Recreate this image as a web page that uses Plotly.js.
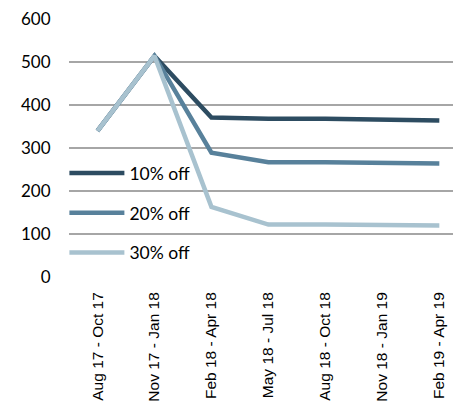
<!DOCTYPE html>
<html><head><meta charset="utf-8">
<script src="https://cdn.plot.ly/plotly-3.0.1.min.js"></script>
<style>body{margin:0;background:#fff}#chart{width:453px;height:405px}</style>
</head><body><div id="chart"></div>
<script>
const categories = ["Aug 17 - Oct 17","Nov 17 - Jan 18","Feb 18 - Apr 18","May 18 - Jul 18","Aug 18 - Oct 18","Nov 18 - Jan 19","Feb 19 - Apr 19"];
const off10 = [340, 514, 371, 368, 368, 366, 364];
const off20 = [340, 514, 289, 267, 267, 266, 264];
const off30 = [340, 514, 163, 122, 122, 122, 120];
const seriesNames = ["10% off","20% off","30% off"];
const colors = ["#2d4c61","#58819b","#a8c2cf"];
const data = [off10, off20, off30].map((y,i)=>({
  x: categories, y: y, type: "scatter", mode: "lines", name: seriesNames[i],
  legendgroup: "g" + i,
  line: {color: colors[i], width: 4.5}
}));
const layout = {
  width: 453, height: 405,
  margin: {l: 69, r: 0, t: 19, b: 128},
  paper_bgcolor: "#fff", plot_bgcolor: "#fff",
  font: {family: "Lato, 'Open Sans', sans-serif", color: "#000"},
  showlegend: true,
  legend: {x: -0.012, y: 0.472, xanchor: "left", yanchor: "top", bgcolor: "rgba(0,0,0,0)",
    font: {size: 17.5, color: "#000"}, itemwidth: 55, tracegroupgap: 14, traceorder: "grouped"},
  xaxis: {type: "category", range: [-0.5, 6.24], showgrid: false, zeroline: false,
    showline: false, tickangle: -90, tickfont: {size: 15.5, color: "#000", family: "'Liberation Sans', Arial, sans-serif"}, ticks: "outside", ticklen: 8, tickcolor: "rgba(0,0,0,0)"},
  yaxis: {range: [0, 600], dtick: 100, showgrid: true, gridcolor: "#a6a6a6", gridwidth: 1.5,
    zeroline: false, showline: false, tickfont: {size: 17, color: "#000"}, ticks: "outside", ticklen: 14, tickcolor: "rgba(0,0,0,0)"}
};
Plotly.newPlot("chart", data, layout, {displayModeBar: false, staticPlot: true});
</script></body></html>
